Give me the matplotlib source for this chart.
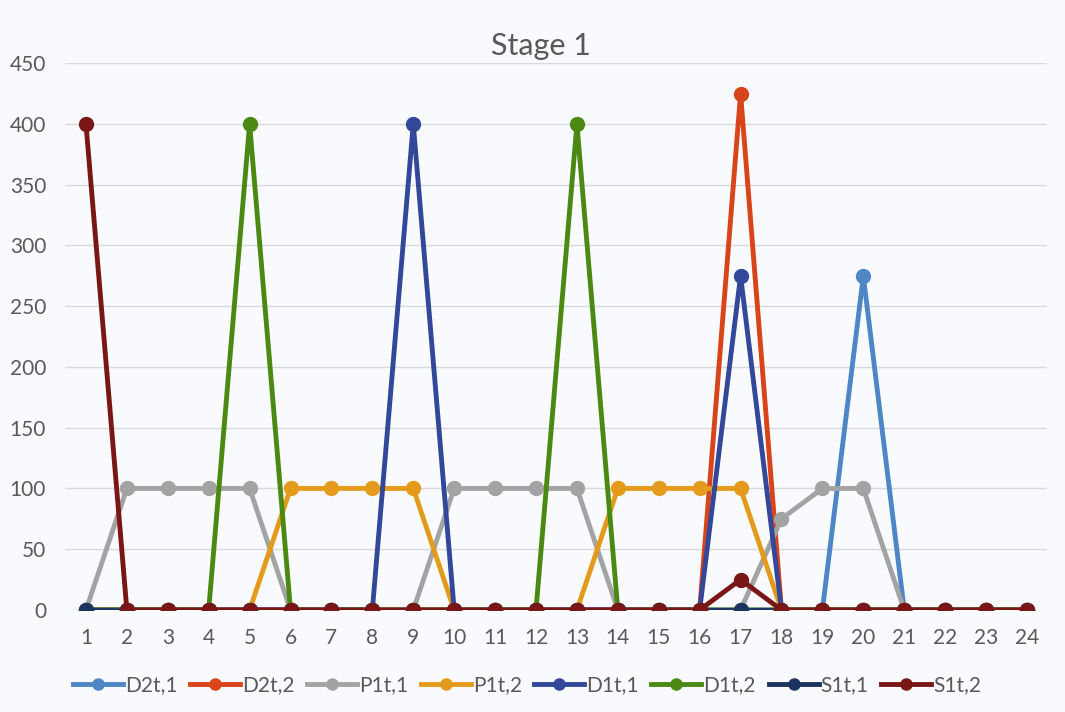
import matplotlib
matplotlib.use("Agg")
import matplotlib.pyplot as plt

plt.rcParams['font.family'] = ['Lato', 'DejaVu Sans']

hours = list(range(1, 25))
d2_1 = [0]*19 + [275] + [0]*4
d2_2 = [0]*16 + [425] + [0]*7
p1_1 = [0, 100, 100, 100, 100, 0, 0, 0, 0, 100, 100, 100, 100, 0, 0, 0, 0, 75, 100, 100, 0, 0, 0, 0]
p1_2 = [0, 0, 0, 0, 0, 100, 100, 100, 100, 0, 0, 0, 0, 100, 100, 100, 100, 0, 0, 0, 0, 0, 0, 0]
d1_1 = [0]*8 + [400] + [0]*7 + [275] + [0]*7
d1_2 = [0]*4 + [400] + [0]*7 + [400] + [0]*11
s1_1 = [0]*24
s1_2 = [400] + [0]*15 + [25] + [0]*7

series = [
    ("D2t,1", d2_1, "#4F86C6"),
    ("D2t,2", d2_2, "#D9441A"),
    ("P1t,1", p1_1, "#A3A3A3"),
    ("P1t,2", p1_2, "#E49A1A"),
    ("D1t,1", d1_1, "#34489A"),
    ("D1t,2", d1_2, "#4A8A12"),
    ("S1t,1", s1_1, "#1C3461"),
    ("S1t,2", s1_2, "#7A1716"),
]

txt = "#595959"
fig = plt.figure(figsize=(10.65, 7.12), dpi=100, facecolor="#F8FAFD")
ax = fig.add_axes([0.0615, 0.1433, 0.922, 0.768])
ax.set_facecolor("none")

for name, vals, col in series:
    ax.plot(hours, vals, color=col, lw=3.5, marker='o', ms=10, label=name)

ax.set_xlim(0.5, 24.5)
ax.set_ylim(0, 450)
ax.set_yticks(range(0, 451, 50))
ax.set_xticks(hours)
ax.grid(axis='y', color="#D9D9D9", lw=1)
ax.set_axisbelow(True)
for s in ax.spines.values():
    s.set_visible(False)
ax.tick_params(length=0, labelsize=15, colors=txt)
ax.tick_params(axis='x', pad=13)
ax.tick_params(axis='y', pad=14)

fig.text(0.508, 0.935, "Stage 1", ha='center', va='center', fontsize=22, color=txt)

ax.legend(loc='upper center', bbox_to_anchor=(0.47, -0.085), ncol=8, frameon=False,
          fontsize=15, labelcolor=txt, handlelength=2.4, columnspacing=0.6,
          handletextpad=0.1, markerscale=0.8)

fig.savefig("out.png", dpi=100, facecolor=fig.get_facecolor())
